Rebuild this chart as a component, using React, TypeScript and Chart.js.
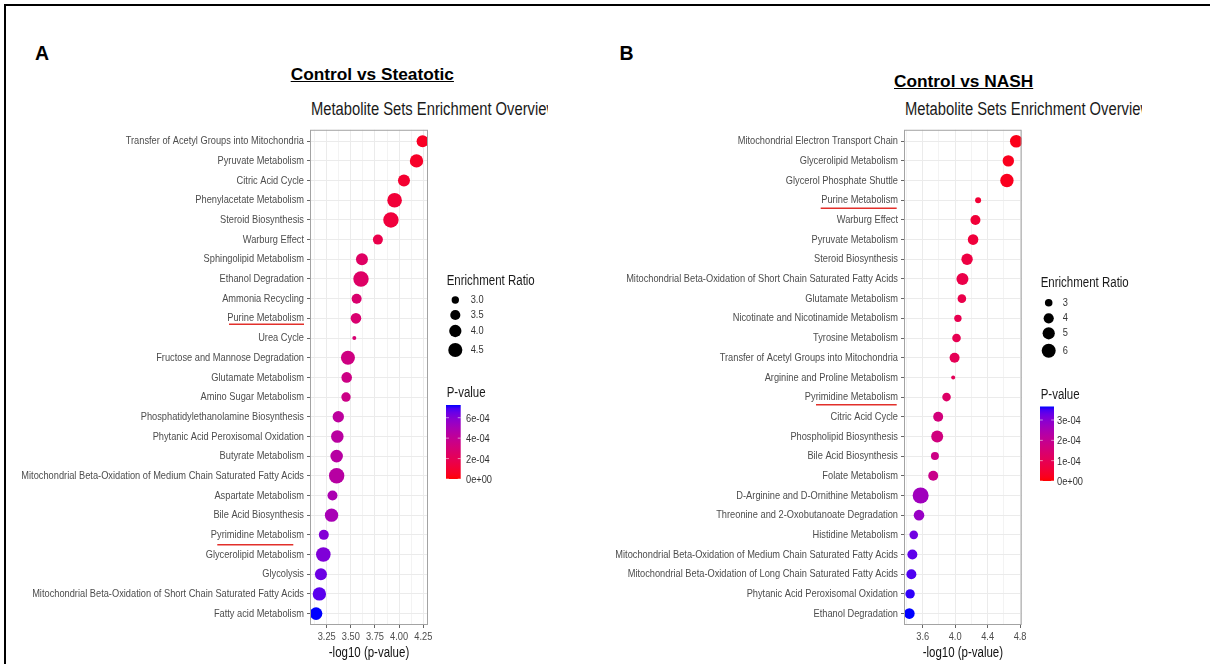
import React, { useEffect, useRef } from "react";
import { Chart, registerables } from "chart.js";
Chart.register(...registerables);

// ---------------- Panel A : Control vs Steatotic ----------------
const categoriesA = [
  "Transfer of Acetyl Groups into Mitochondria",
  "Pyruvate Metabolism",
  "Citric Acid Cycle",
  "Phenylacetate Metabolism",
  "Steroid Biosynthesis",
  "Warburg Effect",
  "Sphingolipid Metabolism",
  "Ethanol Degradation",
  "Ammonia Recycling",
  "Purine Metabolism",
  "Urea Cycle",
  "Fructose and Mannose Degradation",
  "Glutamate Metabolism",
  "Amino Sugar Metabolism",
  "Phosphatidylethanolamine Biosynthesis",
  "Phytanic Acid Peroxisomal Oxidation",
  "Butyrate Metabolism",
  "Mitochondrial Beta-Oxidation of Medium Chain Saturated Fatty Acids",
  "Aspartate Metabolism",
  "Bile Acid Biosynthesis",
  "Pyrimidine Metabolism",
  "Glycerolipid Metabolism",
  "Glycolysis",
  "Mitochondrial Beta-Oxidation of Short Chain Saturated Fatty Acids",
  "Fatty acid Metabolism",
];
const negLogPA = [
  4.243, 4.18, 4.05, 3.953, 3.915, 3.78, 3.615, 3.605, 3.56, 3.553, 3.536, 3.47, 3.457,
  3.45, 3.37, 3.36, 3.353, 3.353, 3.31, 3.3, 3.22, 3.215, 3.19, 3.174, 3.14,
];
const ratioA = [
  3.93, 4.3, 3.93, 4.65, 4.9, 3.47, 3.93, 4.9, 3.47, 3.6, 2.6, 4.47, 3.6, 3.35, 3.78,
  4.08, 4.08, 4.9, 3.47, 4.3, 3.47, 4.65, 3.93, 4.3, 4.08,
];
const xMajorA = [3.25, 3.5, 3.75, 4.0, 4.25];
const xMinorA = [3.125, 3.375, 3.625, 3.875, 4.125];
const sizeLegendA = [3.0, 3.5, 4.0, 4.5];
const sizeLegendLabelsA = ["3.0", "3.5", "4.0", "4.5"];
const pLegendA = [0, 2e-4, 4e-4, 6e-4];
const pLegendLabelsA = ["0e+00", "2e-04", "4e-04", "6e-04"];
const underlinedA = ["Purine Metabolism", "Pyrimidine Metabolism"];

// ---------------- Panel B : Control vs NASH ----------------
const categoriesB = [
  "Mitochondrial Electron Transport Chain",
  "Glycerolipid Metabolism",
  "Glycerol Phosphate Shuttle",
  "Purine Metabolism",
  "Warburg Effect",
  "Pyruvate Metabolism",
  "Steroid Biosynthesis",
  "Mitochondrial Beta-Oxidation of Short Chain Saturated Fatty Acids",
  "Glutamate Metabolism",
  "Nicotinate and Nicotinamide Metabolism",
  "Tyrosine Metabolism",
  "Transfer of Acetyl Groups into Mitochondria",
  "Arginine and Proline Metabolism",
  "Pyrimidine Metabolism",
  "Citric Acid Cycle",
  "Phospholipid Biosynthesis",
  "Bile Acid Biosynthesis",
  "Folate Metabolism",
  "D-Arginine and D-Ornithine Metabolism",
  "Threonine and 2-Oxobutanoate Degradation",
  "Histidine Metabolism",
  "Mitochondrial Beta-Oxidation of Medium Chain Saturated Fatty Acids",
  "Mitochondrial Beta-Oxidation of Long Chain Saturated Fatty Acids",
  "Phytanic Acid Peroxisomal Oxidation",
  "Ethanol Degradation",
];
const negLogPB = [
  4.753, 4.655, 4.638, 4.283, 4.25, 4.221, 4.147, 4.09, 4.083, 4.034, 4.017, 3.993, 3.976,
  3.894, 3.791, 3.779, 3.751, 3.73, 3.575, 3.555, 3.49, 3.473, 3.461, 3.445, 3.436,
];
const ratioB = [
  5.2, 4.58, 5.65, 2.53, 3.92, 4.19, 4.58, 4.88, 3.36, 2.94, 3.36, 3.92, 2.1, 3.36, 3.92,
  4.88, 3.14, 3.92, 7.32, 4.19, 3.36, 3.92, 3.92, 3.67, 4.19,
];
const xMajorB = [3.6, 4.0, 4.4, 4.8];
const xMinorB = [3.4, 3.8, 4.2, 4.6];
const sizeLegendB = [3, 4, 5, 6];
const sizeLegendLabelsB = ["3", "4", "5", "6"];
const pLegendB = [0, 1e-4, 2e-4, 3e-4];
const pLegendLabelsB = ["0e+00", "1e-04", "2e-04", "3e-04"];
const underlinedB = ["Purine Metabolism", "Pyrimidine Metabolism"];

// ---------------- styling ----------------
const SANS = "'Liberation Sans', Arial, Helvetica, sans-serif";
const SQUEEZE = 0.82; // the figure's text is horizontally condensed
const TICK_COLOR = "#4D4D4D";

// draw text horizontally condensed around its own anchor
function condensed(ctx: any, fn: () => void) {
  const orig = CanvasRenderingContext2D.prototype.fillText;
  ctx.fillText = function (text: string, x: number, y: number, maxWidth?: number) {
    ctx.save();
    ctx.translate(x, y);
    ctx.scale(SQUEEZE, 1);
    if (maxWidth === undefined || maxWidth === null) orig.call(ctx, text, 0, 0);
    else orig.call(ctx, text, 0, 0, maxWidth / SQUEEZE);
    ctx.restore();
  };
  try {
    fn();
  } finally {
    delete ctx.fillText;
  }
}
function patchScale(s: any) {
  if (s.__condensed) return;
  s.__condensed = true;
  const dl = s.drawLabels.bind(s);
  const dt = s.drawTitle.bind(s);
  s.drawLabels = (area: any) => condensed(s.ctx, () => dl(area));
  s.drawTitle = (area: any) => condensed(s.ctx, () => dt(area));
}

// Lab colour interpolation (red -> blue), like ggplot's gradient
function lin(c: number) {
  c /= 255;
  return c <= 0.04045 ? c / 12.92 : Math.pow((c + 0.055) / 1.055, 2.4);
}
function unlin(c: number) {
  const v = c <= 0.0031308 ? 12.92 * c : 1.055 * Math.pow(c, 1 / 2.4) - 0.055;
  return Math.round(Math.max(0, Math.min(1, v)) * 255);
}
const XN = 0.95047, YN = 1, ZN = 1.08883;
function toLab(rgb: number[]) {
  const r = lin(rgb[0]), g = lin(rgb[1]), b = lin(rgb[2]);
  const X = (0.4124564 * r + 0.3575761 * g + 0.1804375 * b) / XN;
  const Y = (0.2126729 * r + 0.7151522 * g + 0.072175 * b) / YN;
  const Z = (0.0193339 * r + 0.119192 * g + 0.9503041 * b) / ZN;
  const f = (t: number) => (t > 0.008856 ? Math.cbrt(t) : 7.787 * t + 16 / 116);
  const fx = f(X), fy = f(Y), fz = f(Z);
  return [116 * fy - 16, 500 * (fx - fy), 200 * (fy - fz)];
}
function fromLab(lab: number[]) {
  const fy = (lab[0] + 16) / 116;
  const fx = fy + lab[1] / 500;
  const fz = fy - lab[2] / 200;
  const inv = (f: number) => (f * f * f > 0.008856 ? f * f * f : (f - 16 / 116) / 7.787);
  const X = inv(fx) * XN, Y = inv(fy) * YN, Z = inv(fz) * ZN;
  const r = 3.2404542 * X - 1.5371385 * Y - 0.4985314 * Z;
  const g = -0.969266 * X + 1.8760108 * Y + 0.041556 * Z;
  const b = 0.0556434 * X - 0.2040259 * Y + 1.0572252 * Z;
  return `rgb(${unlin(r)},${unlin(g)},${unlin(b)})`;
}
const LAB_LOW = toLab([255, 0, 0]);
const LAB_HIGH = toLab([0, 0, 255]);
function gradient(t: number) {
  const u = Math.max(0, Math.min(1, t));
  return fromLab(LAB_LOW.map((v, i) => v + (LAB_HIGH[i] - v) * u));
}

type Layout = {
  canvasLeft: number;
  canvasTop: number;
  canvasWidth: number;
  canvasHeight: number;
  plotLeft: number;
  plotRight: number;
  plotTop: number;
  plotBottom: number;
  xMin: number;
  xMax: number;
  decimals: number;
  sizeK: number;
  sizeR0: number;
  legTitleX: number;
  legTitleY: number;
  legDotX: number;
  legDotYs: number[];
  legLabelX: number;
  pTitleY: number;
  barX: number;
  barW: number;
  barTop: number;
  barBottom: number;
  pLabelX: number;
  underlines: { x0: number; x1: number; dy: number }[];
};

type PanelProps = {
  cats: string[];
  negLogP: number[];
  ratio: number[];
  major: number[];
  minor: number[];
  sizeLegend: number[];
  sizeLegendLabels: string[];
  pLegend: number[];
  pLegendLabels: string[];
  underlined: string[];
  L: Layout;
};

const layoutA: Layout = {
  canvasLeft: 0, canvasTop: 120, canvasWidth: 600, canvasHeight: 544,
  plotLeft: 310, plotRight: 428, plotTop: 126.5, plotBottom: 625,
  xMin: 3.077, xMax: 4.299, decimals: 2,
  sizeK: 24, sizeR0: 2.43,
  legTitleX: 446.7, legTitleY: 285, legDotX: 455.3, legDotYs: [300, 315, 331, 350], legLabelX: 470.7,
  pTitleY: 396.5, barX: 446, barW: 14.7, barTop: 405, barBottom: 479, pLabelX: 466,
  underlines: [
    { x0: 229, x1: 304, dy: 6 },
    { x0: 217.3, x1: 293.3, dy: 9.8 },
  ],
};
const layoutB: Layout = {
  canvasLeft: 600, canvasTop: 120, canvasWidth: 610, canvasHeight: 544,
  plotLeft: 904, plotRight: 1021.7, plotTop: 126.5, plotBottom: 625,
  xMin: 3.37, xMax: 4.82, decimals: 1,
  sizeK: 11.5, sizeR0: 1.75,
  legTitleX: 1040.7, legTitleY: 287.3, legDotX: 1048.7, legDotYs: [302.7, 318.3, 333.3, 350.7], legLabelX: 1062.7,
  pTitleY: 399, barX: 1040, barW: 14, barTop: 406.5, barBottom: 481, pLabelX: 1057,
  underlines: [
    { x0: 820.7, x1: 896.7, dy: 8 },
    { x0: 816, x1: 896.7, dy: 7.8 },
  ],
};

function Panel(props: PanelProps) {
  const ref = useRef<HTMLCanvasElement>(null);
  useEffect(() => {
    const { cats, negLogP, ratio, major, minor, L } = props;
    const pVals = negLogP.map((v) => Math.pow(10, -v));
    const pMax = Math.max(...pVals);
    const colorOf = (p: number) => gradient(p / pMax);
    const radiusOf = (r: number) => Math.sqrt(Math.max(L.sizeK * (r - L.sizeR0), 1));
    const data = negLogP.map((v, i) => ({ x: v, y: i }));
    const allTicks = [...major, ...minor].sort((a, b) => a - b);
    const isMajor = (v: number) => major.some((m) => Math.abs(m - v) < 1e-9);
    const ox = L.canvasLeft, oy = L.canvasTop;

    const decor = {
      id: "decor",
      afterDatasetsDraw(chart: any) {
        const { ctx, chartArea: a } = chart;
        ctx.save();
        ctx.strokeStyle = "#A3A3A3";
        ctx.lineWidth = 1;
        ctx.strokeRect(a.left + 0.5, a.top + 0.5, a.right - a.left - 1, a.bottom - a.top - 1);
        ctx.restore();
      },
      afterDraw(chart: any) {
        const { ctx } = chart;
        const ys = chart.scales.y;
        ctx.save();
        // red hand-drawn underlines
        ctx.strokeStyle = "#E2302B";
        ctx.lineWidth = 1.5;
        props.underlined.forEach((name, k) => {
          const idx = cats.indexOf(name);
          if (idx < 0) return;
          const u = L.underlines[k];
          const y = ys.getPixelForValue(idx) + u.dy;
          ctx.beginPath();
          ctx.moveTo(u.x0 - ox, y);
          ctx.lineTo(u.x1 - ox, y);
          ctx.stroke();
        });
        condensed(ctx, () => {
          // size legend
          ctx.fillStyle = "#1A1A1A";
          ctx.textAlign = "left";
          ctx.textBaseline = "alphabetic";
          ctx.font = `14px ${SANS}`;
          ctx.fillText("Enrichment Ratio", L.legTitleX - ox, L.legTitleY - oy);
          props.sizeLegend.forEach((r, i) => {
            const y = L.legDotYs[i] - oy;
            ctx.fillStyle = "#000";
            ctx.beginPath();
            ctx.arc(L.legDotX - ox, y, radiusOf(r), 0, Math.PI * 2);
            ctx.fill();
            ctx.fillStyle = "#333";
            ctx.font = `11.3px ${SANS}`;
            ctx.textBaseline = "middle";
            ctx.fillText(props.sizeLegendLabels[i], L.legLabelX - ox, y);
            ctx.textBaseline = "alphabetic";
          });
          // colour bar legend
          ctx.fillStyle = "#1A1A1A";
          ctx.font = `14px ${SANS}`;
          ctx.fillText("P-value", L.legTitleX - ox, L.pTitleY - oy);
          const bx = L.barX - ox, bt = L.barTop - oy, bb = L.barBottom - oy;
          const grad = ctx.createLinearGradient(0, bb, 0, bt);
          for (let s = 0; s <= 20; s++) grad.addColorStop(s / 20, gradient(s / 20));
          ctx.fillStyle = grad;
          ctx.fillRect(bx, bt, L.barW, bb - bt);
          props.pLegend.forEach((p, i) => {
            const y = bb - (p / pMax) * (bb - bt);
            ctx.strokeStyle = "rgba(255,255,255,0.9)";
            ctx.lineWidth = 0.6;
            ctx.beginPath();
            ctx.moveTo(bx, y);
            ctx.lineTo(bx + L.barW / 5, y);
            ctx.moveTo(bx + L.barW, y);
            ctx.lineTo(bx + (L.barW * 4) / 5, y);
            ctx.stroke();
            ctx.fillStyle = "#333";
            ctx.font = `11.3px ${SANS}`;
            ctx.textBaseline = "middle";
            ctx.fillText(props.pLegendLabels[i], L.pLabelX - ox, y + 1);
          });
        });
        ctx.restore();
      },
    };

    const chart = new Chart(ref.current as HTMLCanvasElement, {
      type: "scatter",
      data: {
        datasets: [
          {
            data,
            pointRadius: (c: any) => radiusOf(ratio[c.dataIndex]),
            pointHoverRadius: (c: any) => radiusOf(ratio[c.dataIndex]),
            pointBackgroundColor: (c: any) => colorOf(pVals[c.dataIndex]),
            pointBorderWidth: 0,
            pointBorderColor: "rgba(0,0,0,0)",
          } as any,
        ],
      },
      options: {
        animation: false,
        responsive: false,
        maintainAspectRatio: false,
        events: [],
        layout: {
          padding: {
            left: 0,
            top: L.plotTop - L.canvasTop,
            right: L.canvasLeft + L.canvasWidth - L.plotRight,
            bottom: 0,
          },
        },
        plugins: {
          legend: { display: false },
          tooltip: { enabled: false },
        },
        scales: {
          x: {
            type: "linear",
            min: L.xMin,
            max: L.xMax,
            afterBuildTicks: (s: any) => {
              s.ticks = allTicks.map((v) => ({ value: v }));
            },
            afterFit: (s: any) => {
              s.height = L.canvasTop + L.canvasHeight - L.plotBottom;
              patchScale(s);
            },
            ticks: {
              autoSkip: false,
              maxRotation: 0,
              padding: 2,
              color: TICK_COLOR,
              font: { family: SANS, size: 11.3 },
              callback: (v: any) => (isMajor(v) ? Number(v).toFixed(L.decimals) : ""),
            },
            grid: {
              color: (c: any) => (c.tick && isMajor(c.tick.value) ? "#EBEBEB" : "#F3F3F3"),
              tickColor: (c: any) => (c.tick && isMajor(c.tick.value) ? "#666" : "rgba(0,0,0,0)"),
              tickLength: 3,
              lineWidth: 1,
            },
            border: { display: false },
            title: {
              display: true,
              text: "-log10 (p-value)",
              color: "#111",
              font: { family: SANS, size: 14 },
              padding: { top: 0, bottom: 2.5 },
            },
          },
          y: {
            type: "linear",
            reverse: true,
            min: -0.58,
            max: cats.length - 1 + 0.58,
            afterBuildTicks: (s: any) => {
              s.ticks = cats.map((_, i) => ({ value: i }));
            },
            afterFit: (s: any) => {
              s.width = L.plotLeft - L.canvasLeft;
              patchScale(s);
            },
            ticks: {
              autoSkip: false,
              padding: 3,
              color: TICK_COLOR,
              font: { family: SANS, size: 11.3 },
              callback: (v: any) => cats[Math.round(Number(v))],
            },
            grid: { color: "#EBEBEB", tickColor: "#666", tickLength: 3, lineWidth: 1 },
            border: { display: false },
          },
        },
      } as any,
      plugins: [decor],
    });
    return () => chart.destroy();
  }, []);
  const L = props.L;
  return (
    <canvas
      ref={ref}
      width={L.canvasWidth}
      height={L.canvasHeight}
      style={{ position: "absolute", left: L.canvasLeft, top: L.canvasTop, width: L.canvasWidth, height: L.canvasHeight }}
    />
  );
}

const headStyle: React.CSSProperties = {
  position: "absolute",
  fontFamily: SANS,
  fontWeight: "bold",
  lineHeight: 1,
  whiteSpace: "nowrap",
  color: "#000",
};

function PlotTitle({ left, top, width }: { left: number; top: number; width: number }) {
  return (
    <div style={{ position: "absolute", left, top, width, height: 24, overflow: "hidden" }}>
      <div
        style={{
          whiteSpace: "nowrap",
          fontFamily: SANS,
          fontSize: 18,
          lineHeight: 1,
          color: "#1A1A1A",
          transform: `scaleX(${SQUEEZE})`,
          transformOrigin: "0 0",
        }}
      >
        Metabolite Sets Enrichment Overview
      </div>
    </div>
  );
}

export default function App() {
  return (
    <div
      style={{
        position: "fixed",
        left: 0,
        top: 0,
        width: 1210,
        height: 664,
        overflow: "hidden",
        background: "#fff",
      }}
    >
      <div
        style={{
          position: "absolute",
          left: 4,
          top: 4,
          width: 1300,
          height: 800,
          borderTop: "2px solid #000",
          borderLeft: "2px solid #000",
        }}
      />
      <div style={{ ...headStyle, left: 35, top: 44.2, fontSize: 19.5 }}>A</div>
      <div style={{ ...headStyle, left: 619.5, top: 44.2, fontSize: 19.5 }}>B</div>
      <div style={{ ...headStyle, left: 290.7, top: 66.1, fontSize: 17.3, textDecoration: "underline" }}>
        Control vs Steatotic
      </div>
      <div style={{ ...headStyle, left: 894, top: 72.8, fontSize: 17.3, textDecoration: "underline" }}>
        Control vs NASH
      </div>
      <PlotTitle left={310.7} top={100} width={237.3} />
      <PlotTitle left={905} top={100.3} width={236.7} />
      <Panel
        cats={categoriesA}
        negLogP={negLogPA}
        ratio={ratioA}
        major={xMajorA}
        minor={xMinorA}
        sizeLegend={sizeLegendA}
        sizeLegendLabels={sizeLegendLabelsA}
        pLegend={pLegendA}
        pLegendLabels={pLegendLabelsA}
        underlined={underlinedA}
        L={layoutA}
      />
      <Panel
        cats={categoriesB}
        negLogP={negLogPB}
        ratio={ratioB}
        major={xMajorB}
        minor={xMinorB}
        sizeLegend={sizeLegendB}
        sizeLegendLabels={sizeLegendLabelsB}
        pLegend={pLegendB}
        pLegendLabels={pLegendLabelsB}
        underlined={underlinedB}
        L={layoutB}
      />
    </div>
  );
}
